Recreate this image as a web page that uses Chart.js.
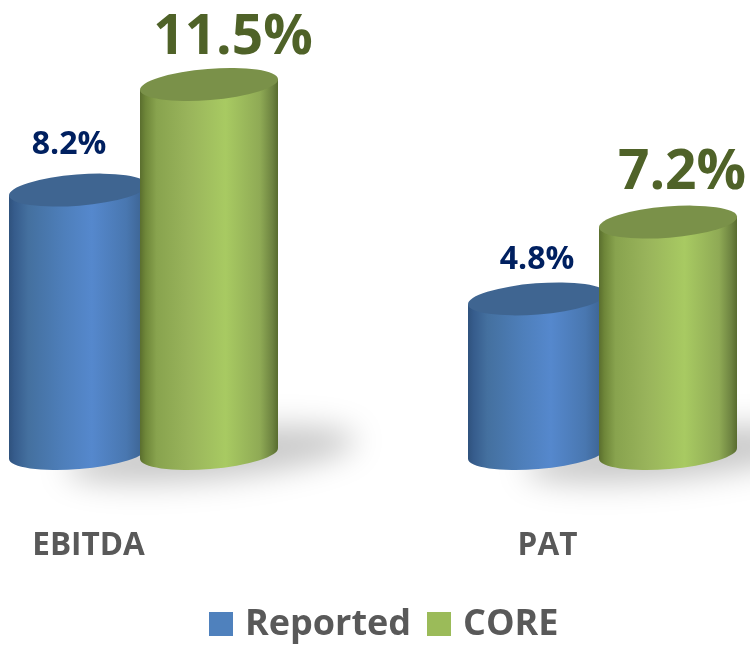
<!DOCTYPE html>
<html>
<head>
<meta charset="utf-8">
<style>
  html, body { margin: 0; padding: 0; background: #fff; }
  #wrap { width: 750px; height: 649px; }
</style>
<script src="https://cdn.jsdelivr.net/npm/chart.js@4"></script>
</head>
<body>
<div id="wrap"><canvas id="myChart" width="750" height="649"></canvas></div>
<script>
const categories = ["EBITDA", "PAT"];
const reported = [8.2, 4.8];
const core = [11.5, 7.2];
const seriesNames = ["Reported", "CORE"];

// label placement next to each cylinder top: [dx, dy, font size]
const labelPlace = [
  [[-9, -45, 32], [0, -39, 32]],
  [[24, -46, 55], [14, -49, 55]],
];
const labelColors = ["#002060", "#4f6228"];
const legendBoxes = [209, 427];
const legendColors = ["#4f81bd", "#9bbb59"];

const ramps = [
  [[0, "#2f527d"], [0.04, "#365c8c"], [0.14, "#44709f"], [0.4, "#4e7fbb"], [0.6, "#5588cd"], [0.85, "#4977b0"], [0.97, "#3d6493"], [1, "#365b89"]],
  [[0, "#5a6e2e"], [0.04, "#6e8639"], [0.12, "#88a34e"], [0.35, "#99b45b"], [0.62, "#a8ca62"], [0.87, "#8faa55"], [0.96, "#6d8340"], [1, "#586c2e"]],
];
const capColors = ["#3f6591", "#7a9149"];

const TILT = Math.atan2(-11, 138);
const RY = 15.6;

function drawCylinder(c, el, d) {
  const w = el.width, rx = w / 2 / Math.cos(TILT);
  const dy = Math.tan(TILT) * w / 2;
  const left = el.x - w / 2, right = el.x + w / 2;
  const g = c.createLinearGradient(left, 0, right, 0);
  ramps[d].forEach(s => g.addColorStop(s[0], s[1]));
  c.fillStyle = g;
  c.beginPath();
  c.moveTo(left, el.y - dy);
  c.lineTo(left, el.base + 1 - dy);
  c.ellipse(el.x, el.base + 1, rx, RY, TILT, Math.PI, 0, true);
  c.lineTo(right, el.y + dy);
  c.closePath();
  c.fill();
  c.fillStyle = capColors[d];
  c.beginPath();
  c.ellipse(el.x, el.y, rx, RY, TILT, 0, Math.PI * 2);
  c.fill();
}

const cylinders = {
  id: "cylinders",
  beforeDatasetsDraw(chart) {
    const c = chart.ctx;
    c.save();
    c.filter = "blur(15px)";
    c.fillStyle = "rgba(0,0,0,0.21)";
    chart.getDatasetMeta(1).data.forEach(el => {
      c.beginPath();
      c.ellipse(el.x + 2, el.base + 2, 146, 25, -0.1, 0, Math.PI * 2);
      c.fill();
    });
    c.restore();
    [0, 1].forEach(d => {
      chart.getDatasetMeta(d).data.forEach(el => drawCylinder(c, el, d));
    });
    return false;
  },
  afterDraw(chart) {
    const c = chart.ctx;
    c.save();
    c.textAlign = "center";
    c.textBaseline = "middle";
    chart.data.datasets.forEach((ds, d) => {
      c.fillStyle = labelColors[d];
      chart.getDatasetMeta(d).data.forEach((el, i) => {
        const p = labelPlace[d][i];
        c.font = "bold " + p[2] + "px 'Open Sans'";
        c.fillText(ds.data[i].toFixed(1) + "%", el.x + p[0], el.y + p[1]);
      });
    });
    // legend
    c.textAlign = "left";
    c.font = "bold 36px 'Open Sans'";
    seriesNames.forEach((name, d) => {
      c.fillStyle = legendColors[d];
      c.fillRect(legendBoxes[d], 612, 24, 24);
      c.fillStyle = "#595959";
      c.fillText(name, legendBoxes[d] + 36, 624.5);
    });
    c.restore();
  },
};

let ctx = document.getElementById("myChart").getContext("2d");
let myChart = new Chart(ctx, {
  type: "bar",
  data: {
    labels: categories,
    datasets: [
      { label: seriesNames[0], data: reported, backgroundColor: legendColors[0] },
      { label: seriesNames[1], data: core, backgroundColor: legendColors[1] },
    ],
  },
  options: {
    responsive: false,
    animation: false,
    categoryPercentage: 0.5708,
    barPercentage: 1.0534,
    layout: { padding: { left: 143.5, right: 147.5, top: 4.5, bottom: 0 } },
    plugins: {
      legend: { display: false },
      title: { display: false },
      tooltip: { enabled: false },
    },
    scales: {
      x: {
        offset: false,
        afterFit(scale) { scale.height = 196.5; },
        grid: { display: false, drawTicks: false },
        border: { display: false },
        ticks: {
          color: "#595959",
          font: { family: "'Open Sans'", size: 31.5, weight: "bold" },
          padding: 75,
          labelOffset: -55,
          maxRotation: 0,
          autoSkip: false,
        },
      },
      y: { display: false, min: 0, max: 14 },
    },
  },
  plugins: [cylinders],
});
</script>
</body>
</html>
